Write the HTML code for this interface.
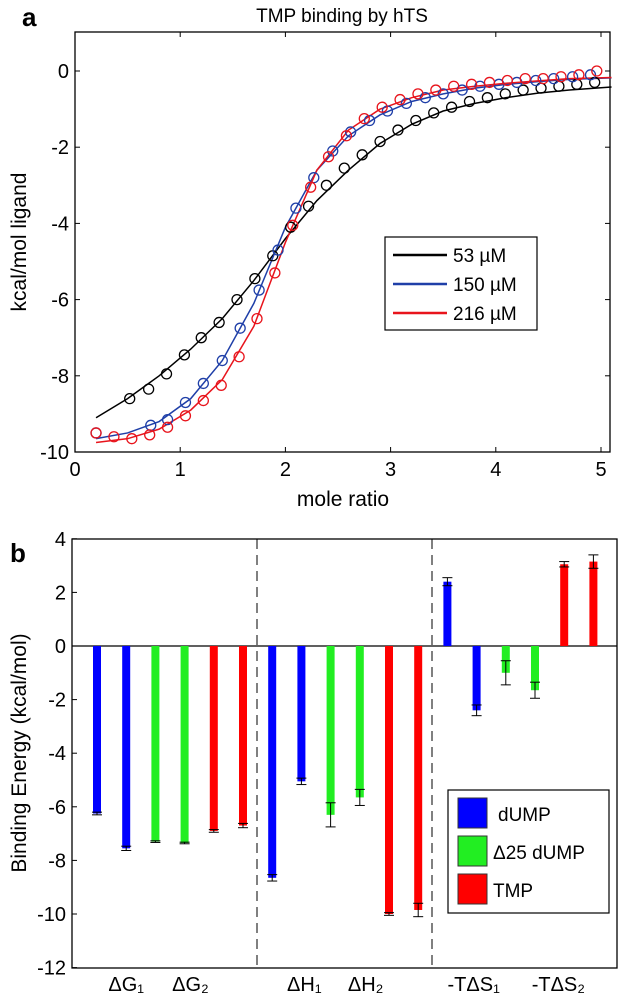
<!DOCTYPE html>
<html><head><meta charset="utf-8"><style>
body{margin:0;background:#fff;}
svg{display:block;font-family:"Liberation Sans",Arial,sans-serif;}
</style></head><body>
<svg id="fig" width="618" height="998" viewBox="0 0 618 998">
<text x="22" y="26" font-size="26" font-weight="bold">a</text>
<text x="342" y="22" font-size="19" text-anchor="middle">TMP binding by hTS</text>
<g id="ga"></g>
<text x="343" y="506" font-size="21" text-anchor="middle">mole ratio</text>
<text transform="translate(26,242) rotate(-90)" font-size="21" text-anchor="middle">kcal/mol ligand</text>
<text x="10" y="562" font-size="26" font-weight="bold">b</text>
<g id="gb"></g>
<text transform="translate(26,753) rotate(-90)" font-size="21" text-anchor="middle">Binding Energy (kcal/mol)</text>
</svg>
<script>
// ---- Chart A data ----
const blackX=[0.52,0.70,0.87,1.04,1.20,1.37,1.54,1.71,1.88,2.05,2.22,2.39,2.56,2.73,2.90,3.07,3.24,3.41,3.58,3.75,3.92,4.09,4.26,4.43,4.60,4.77,4.94];
const blackY=[-8.6,-8.35,-7.95,-7.45,-7.0,-6.6,-6.0,-5.45,-4.85,-4.1,-3.55,-3.0,-2.55,-2.2,-1.85,-1.55,-1.3,-1.1,-0.95,-0.8,-0.7,-0.6,-0.5,-0.45,-0.4,-0.35,-0.3];
const blueX=[0.2,0.72,0.88,1.05,1.22,1.40,1.57,1.75,1.93,2.10,2.27,2.45,2.62,2.80,2.97,3.15,3.33,3.50,3.68,3.85,4.03,4.20,4.38,4.55,4.73,4.90];
const blueY=[-9.5,-9.3,-9.15,-8.7,-8.2,-7.6,-6.75,-5.75,-4.7,-3.6,-2.8,-2.1,-1.6,-1.3,-1.05,-0.85,-0.7,-0.6,-0.5,-0.4,-0.35,-0.3,-0.25,-0.2,-0.15,-0.1];
const redX=[0.2,0.37,0.54,0.71,0.88,1.05,1.22,1.39,1.56,1.73,1.90,2.07,2.24,2.41,2.58,2.75,2.92,3.09,3.26,3.43,3.60,3.77,3.94,4.11,4.28,4.45,4.62,4.79,4.96];
const redY=[-9.5,-9.6,-9.65,-9.55,-9.35,-9.05,-8.65,-8.25,-7.5,-6.5,-5.3,-4.05,-3.05,-2.25,-1.7,-1.25,-0.95,-0.75,-0.6,-0.5,-0.4,-0.35,-0.3,-0.25,-0.2,-0.2,-0.15,-0.1,0.0];
const fitX=[0.2,0.5,0.8,1.1,1.4,1.7,2.0,2.3,2.6,2.9,3.2,3.5,3.8,4.1,4.4,4.7,5.1];
const fitBlack=[-9.1,-8.6,-8.0,-7.3,-6.5,-5.5,-4.4,-3.4,-2.6,-1.9,-1.4,-1.05,-0.85,-0.7,-0.58,-0.5,-0.42];
const fitBlue=[-9.65,-9.5,-9.2,-8.6,-7.6,-6.1,-4.1,-2.6,-1.7,-1.15,-0.8,-0.6,-0.45,-0.35,-0.28,-0.22,-0.18];
const fitRed=[-9.75,-9.65,-9.4,-8.9,-8.1,-6.7,-4.5,-2.6,-1.55,-1.0,-0.7,-0.5,-0.4,-0.32,-0.26,-0.2,-0.17];
const xTicksA=[0,1,2,3,4,5];
const yTicksA=[0,-2,-4,-6,-8,-10];
const legendA=["53 µM","150 µM","216 µM"];
// ---- Chart B data ----
const groupLabels=["ΔG₁","ΔG₂","ΔH₁","ΔH₂","-TΔS₁","-TΔS₂"];
const groupLabelPos=[1.0,3.2,7.1,9.2,12.9,15.8];
const barValues=[-6.25,-7.55,-7.3,-7.35,-6.9,-6.7,-8.65,-5.05,-6.3,-5.65,-10.0,-9.85,2.4,-2.4,-1.0,-1.65,3.05,3.15];
const barErrors=[0.05,0.08,0.03,0.03,0.05,0.08,0.12,0.12,0.45,0.3,0.05,0.25,0.15,0.2,0.45,0.3,0.1,0.25];
const barSeries=[0,0,1,1,2,2,0,0,1,1,2,2,0,0,1,1,2,2];
const seriesNames=["dUMP","Δ25 dUMP","TMP"];
const yTicksB=[4,2,0,-2,-4,-6,-8,-10,-12];

const NS="http://www.w3.org/2000/svg";
function mk(tag,attrs,parent){const e=document.createElementNS(NS,tag);for(const k in attrs)e.setAttribute(k,attrs[k]);parent.appendChild(e);return e;}

// Chart A
const ga=document.getElementById('ga');
const AL=75,AR=610,AT=32,AB=452;
const xa=v=>AL+v*105.2;
const ya=v=>71+(-v)*38.1;
let r=mk('rect',{x:AL,y:AT,width:AR-AL,height:AB-AT,fill:'none',stroke:'#000','stroke-width':1.3},ga);


xTicksA.forEach(t=>{
  const x=xa(t);
  mk('line',{x1:x,y1:AB,x2:x,y2:AB-5,stroke:'#000'},ga);
  mk('line',{x1:x,y1:AT,x2:x,y2:AT+5,stroke:'#000'},ga);
  const tx=mk('text',{x:x,y:AB+24,'font-size':20,'text-anchor':'middle'},ga);tx.textContent=t;
  
  
});
yTicksA.forEach(t=>{
  const y=ya(t);
  mk('line',{x1:AL,y1:y,x2:AL+5,y2:y,stroke:'#000'},ga);
  mk('line',{x1:AR,y1:y,x2:AR-5,y2:y,stroke:'#000'},ga);
  const tx=mk('text',{x:AL-6,y:y+7,'font-size':20,'text-anchor':'end'},ga);tx.textContent=t;
  
  
});
const colsA=['#000','#1f3fa8','#e8141c'];
[fitBlack,fitBlue,fitRed].forEach((fy,i)=>{
  const p=mk('polyline',{points:fitX.map((x,j)=>xa(x)+','+ya(fy[j])).join(' '),fill:'none',stroke:colsA[i],'stroke-width':1.5},ga);
  
  
});
[[blackX,blackY],[blueX,blueY],[redX,redY]].forEach((s,i)=>{
  s[0].forEach((x,j)=>{
    const c=mk('circle',{cx:xa(x),cy:ya(s[1][j]),r:5,fill:'none',stroke:colsA[i],'stroke-width':1.3},ga);
    
    
  });
});
const lgA=mk('g',{},ga);


mk('rect',{x:385,y:237,width:152,height:93,fill:'#fff',stroke:'#000','stroke-width':1.2},lgA);
legendA.forEach((n,i)=>{
  const y=255+i*29;
  mk('line',{x1:393,y1:y,x2:447,y2:y,stroke:colsA[i],'stroke-width':2.5},lgA);
  const t=mk('text',{x:453,y:y+7,'font-size':19},lgA);t.textContent=n;
  
  
});

// Chart B
const gb=document.getElementById('gb');
const BL=72,BR=617,BT=539,BB=968;
const yb=v=>646-v*26.8;
const xb=i=>97+i*29.2;
r=mk('rect',{x:BL,y:BT,width:BR-BL,height:BB-BT,fill:'none',stroke:'#000','stroke-width':1.3},gb);


mk('line',{x1:BL,y1:yb(0),x2:BR,y2:yb(0),stroke:'#000','stroke-width':1.2},gb);
[257,432].forEach(x=>{
  const l=mk('line',{x1:x,y1:BT,x2:x,y2:BB,stroke:'#000','stroke-dasharray':'10,6'},gb);
  
  
});
yTicksB.forEach(t=>{
  const y=yb(t);
  mk('line',{x1:BL,y1:y,x2:BL+5,y2:y,stroke:'#000'},gb);
  const tx=mk('text',{x:BL-6,y:y+7,'font-size':20,'text-anchor':'end'},gb);tx.textContent=t;
  
  
});
const colsB=['#0000ff','#22ee22','#ff0000'];
barValues.forEach((v,i)=>{
  const x=xb(i),y0=yb(0),y1=yb(v);
  const b=mk('rect',{x:x-4,y:Math.min(y0,y1),width:8,height:Math.abs(y1-y0),fill:colsB[barSeries[i]]},gb);
  
  
  const e=barErrors[i];
  const g=mk('g',{stroke:'#000','stroke-width':1},gb);
  
  
  mk('line',{x1:x,y1:yb(v-e),x2:x,y2:yb(v+e)},g);
  mk('line',{x1:x-5,y1:yb(v-e),x2:x+5,y2:yb(v-e)},g);
  mk('line',{x1:x-5,y1:yb(v+e),x2:x+5,y2:yb(v+e)},g);
});
groupLabels.forEach((n,i)=>{
  const x=xb(groupLabelPos[i]);
  const t=mk('text',{x:x,y:991,'font-size':20,'text-anchor':'middle'},gb);t.textContent=n;
  
  
});
const lgB=mk('g',{},gb);


mk('rect',{x:448,y:790,width:161,height:123,fill:'#fff',stroke:'#000','stroke-width':1.2},lgB);
seriesNames.forEach((n,i)=>{
  const y=798+i*38;
  mk('rect',{x:458,y:y,width:29,height:30,fill:colsB[i],stroke:'#333'},lgB);
  const t=mk('text',{x:i==0?498:493,y:y+23,'font-size':19},lgB);t.textContent=n;
  
  
});
</script>
</body></html>
